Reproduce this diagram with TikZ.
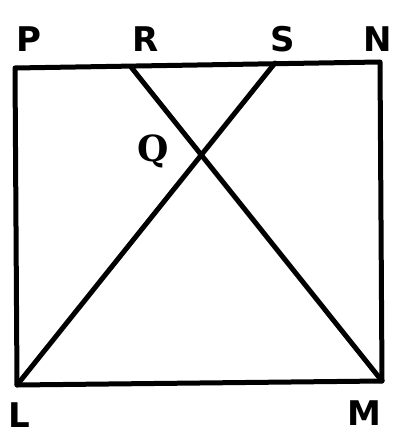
\documentclass[tikz,border=0pt]{standalone}
\usepackage{fontspec}
\setmainfont{DejaVu Sans}
\newfontfamily\qfont{DejaVu Serif}
\begin{document}
\begin{tikzpicture}[x=1pt,y=-1pt,
  edge/.style={line width=5pt,line cap=round,line join=round},
  lbl/.style={font=\fontsize{34}{34}\selectfont\bfseries,inner sep=0pt}]
\useasboundingbox (0,0) rectangle (399,443);
\coordinate (P) at (15,68);
\coordinate (N) at (380,62);
\coordinate (M) at (382,381);
\coordinate (L) at (17,385);
\coordinate (R) at (131,67);
\coordinate (S) at (275,63);
\coordinate (Q) at (intersection of R--M and S--L);
\draw[edge] (P) -- (N) -- (M) -- (L) -- cycle;
\draw[edge] (R) -- (M);
\draw[edge] (S) -- (L);
\node[lbl] (lP) at (29,39) {P};
\node[lbl] (lR) at (146,39) {R};
\node[lbl] (lS) at (283,39) {S};
\node[lbl] (lN) at (378,39) {N};
\node[lbl] (lL) at (19,415) {L};
\node[lbl] (lM) at (364,413) {M};
\node[lbl,font=\fontsize{36}{36}\selectfont\bfseries\qfont] (lQ) at (153,151) {Q};
\end{tikzpicture}
\end{document}
